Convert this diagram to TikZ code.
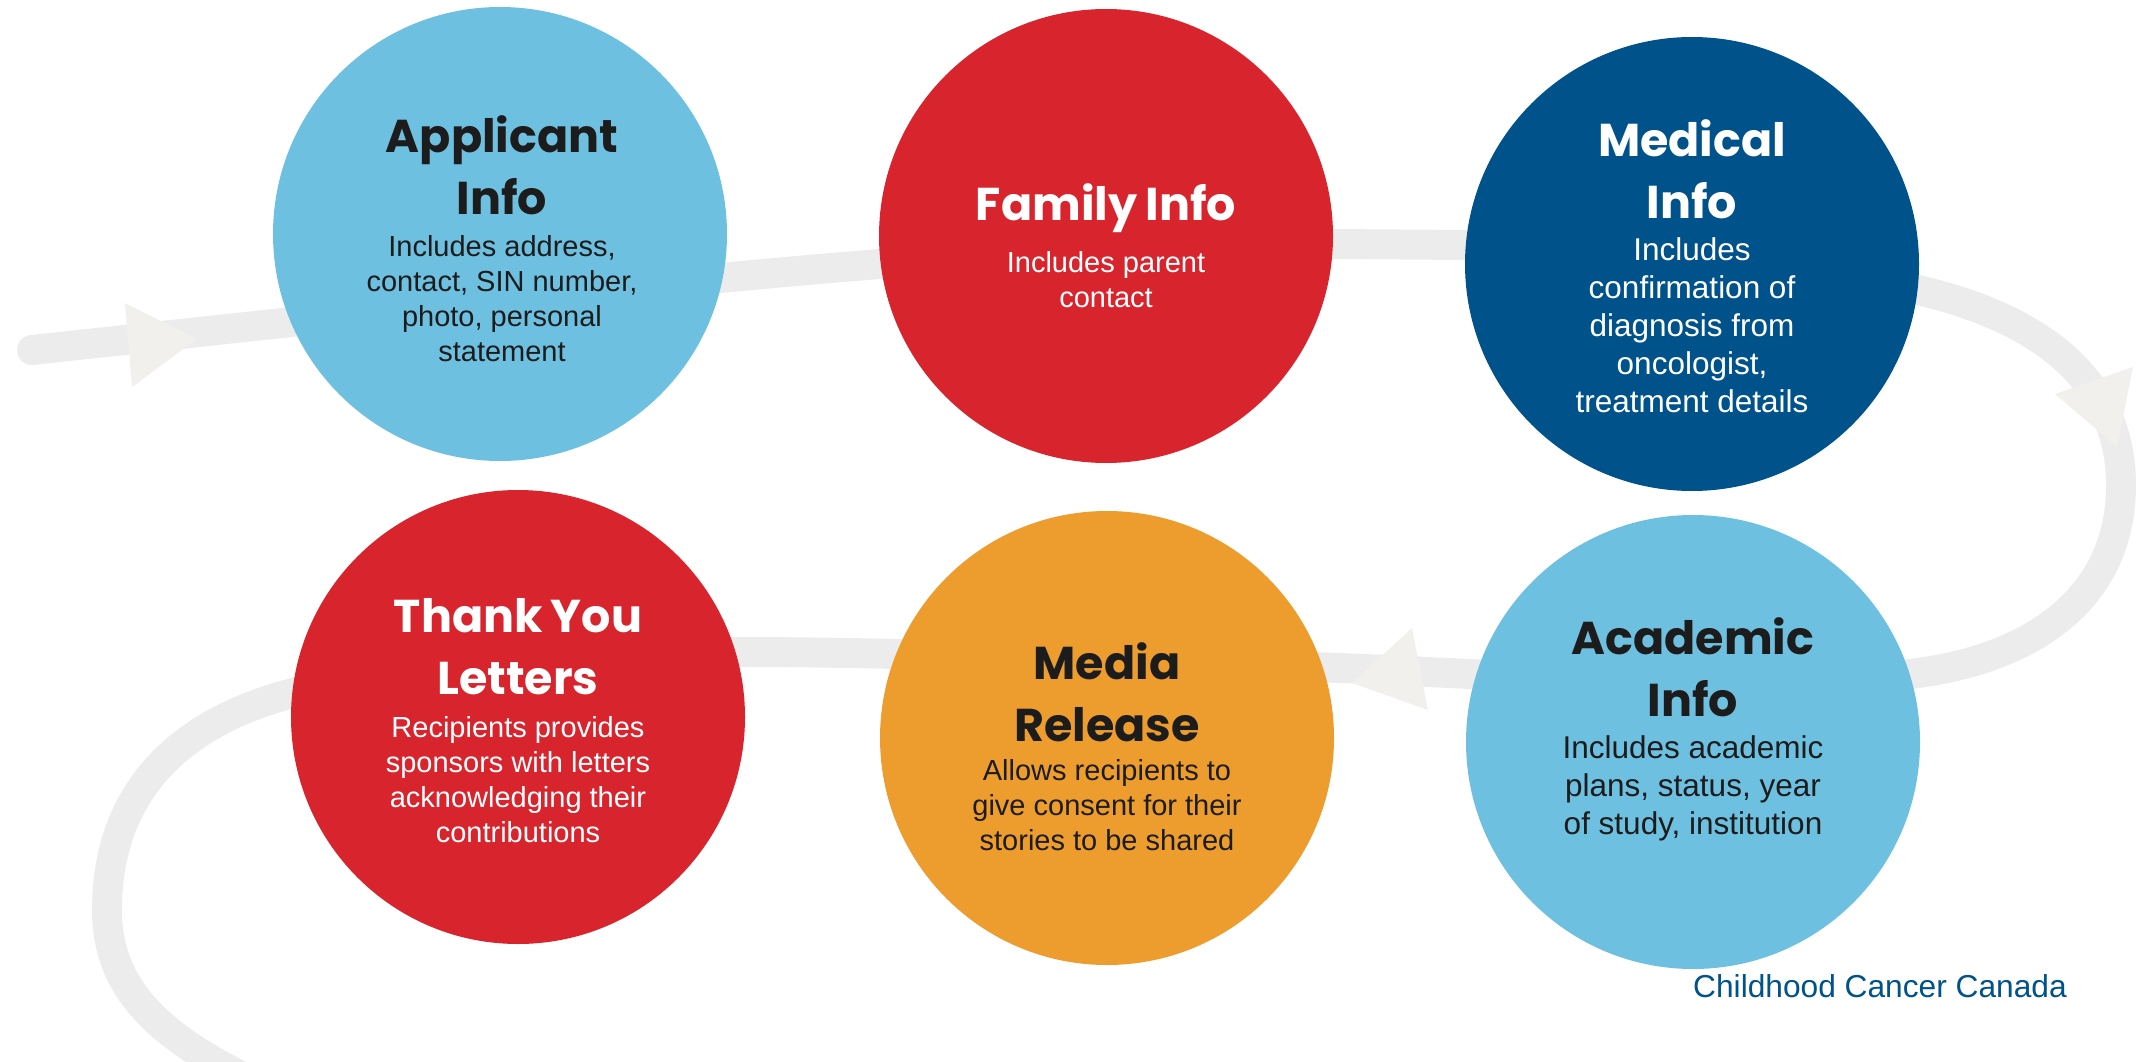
\documentclass[tikz,border=0pt]{standalone}
\usepackage{fontspec}
\setmainfont{Liberation Sans}
\newfontfamily\headfont{Poppins}[WordSpace=0.85]
\usetikzlibrary{positioning}

\definecolor{skyblue}{HTML}{6EC0E1}
\definecolor{ccred}{HTML}{D8242D}
\definecolor{navy}{HTML}{00528A}
\definecolor{amber}{HTML}{ED9D2E}
\definecolor{trackgray}{HTML}{ECECEC}
\definecolor{tipgray}{HTML}{F1F0EC}
\definecolor{inkblack}{HTML}{1C1C1C}

\begin{document}
\begin{tikzpicture}[x=1pt,y=-1pt]

  \tikzstyle{stepnode}=[circle,minimum size=454pt,inner sep=0pt]
  \tikzstyle{stepnodesky}=[stepnode,fill=skyblue]
  \tikzstyle{stepnodered}=[stepnode,fill=ccred]
  \tikzstyle{stepnodenavy}=[stepnode,fill=navy]
  \tikzstyle{stepnodeamber}=[stepnode,fill=amber]

  \tikzstyle{headtxt}=[anchor=north,align=center,inner sep=0pt,font=\headfont\bfseries\fontsize{46}{62}\selectfont]
  \tikzstyle{bodytxt}=[align=center,inner sep=0pt,font=\fontsize{29}{35}\selectfont]
  \tikzstyle{bodytxtbig}=[align=center,inner sep=0pt,font=\fontsize{31.5}{38}\selectfont]

  \tikzstyle{track}=[draw=trackgray,line width=30pt,line cap=round]
  \tikzstyle{tip}=[fill=tipgray]

  \useasboundingbox (0,0) rectangle (2136,1062);
  \clip (0,0) rectangle (2136,1062);

  % track
  \draw[track] (32,350) .. controls (700,278) and (1000,244) .. (1333,244)
    -- (1467,245) .. controls (1700,245) and (1800,254) .. (1918,290)
    .. controls (2055,322) and (2121,390) .. (2121,485)
    .. controls (2121,600) and (2030,660) .. (1910,674)
    .. controls (1700,690) and (1450,672) .. (1340,668)
    .. controls (1100,660) and (900,652) .. (740,652)
    .. controls (550,652) and (400,665) .. (293,693)
    .. controls (170,725) and (107,800) .. (107,910)
    .. controls (107,990) and (160,1040) .. (270,1090);

  % arrow tips
  \fill[tip] (125,303) -- (132,387) -- (197,339) -- cycle;
  \fill[tip] (2055,394) -- (2133,367) -- (2117,447) -- cycle;
  \fill[tip] (1412,628) -- (1428,710) -- (1352,683) -- cycle;

  % circles
  \node[stepnodesky]   (app) at (500,234) {};
  \node[stepnodered]   (fam) at (1106,236) {};
  \node[stepnodenavy]  (med) at (1692,264) {};
  \node[stepnodered]   (thx) at (518,717) {};
  \node[stepnodeamber] (mda) at (1107,738) {};
  \node[stepnodesky]   (acd) at (1693,742) {};

  % texts
  \node[headtxt,text=inkblack] (appT) at (502,115) {Applicant\\Info};
  \node[bodytxt,text=inkblack] (appB) [below=21pt of appT] {Includes address,\\contact, SIN number,\\photo, personal\\statement};

  \node[headtxt,text=white] (famT) at (1106,183) {Family Info};
  \node[bodytxt,text=white] (famB) [below=19pt of famT] {Includes parent\\contact};

  \node[headtxt,text=white] (medT) at (1692,119) {Medical\\Info};
  \node[bodytxtbig,text=white] (medB) [below=19pt of medT] {Includes\\confirmation of\\diagnosis from\\oncologist,\\treatment details};

  \node[headtxt,text=white] (thxT) at (518,598) {Thank You\\Letters};
  \node[bodytxt,text=white] (thxB) [below=21pt of thxT] {Recipients provides\\sponsors with letters\\acknowledging their\\contributions};

  \node[headtxt,text=inkblack] (mdaT) at (1107,642) {Media\\Release};
  \node[bodytxt,text=inkblack] (mdaB) [below=18pt of mdaT] {Allows recipients to\\give consent for their\\stories to be shared};

  \node[headtxt,text=inkblack] (acdT) at (1693,617) {Academic\\Info};
  \node[bodytxtbig,text=inkblack] (acdB) [below=19pt of acdT] {Includes academic\\plans, status, year\\of study, institution};

  \node[font=\fontsize{31.7}{38}\selectfont,text=navy,anchor=base west,inner sep=0pt] (credit) at (1693,997) {Childhood Cancer Canada};

\end{tikzpicture}
\end{document}
